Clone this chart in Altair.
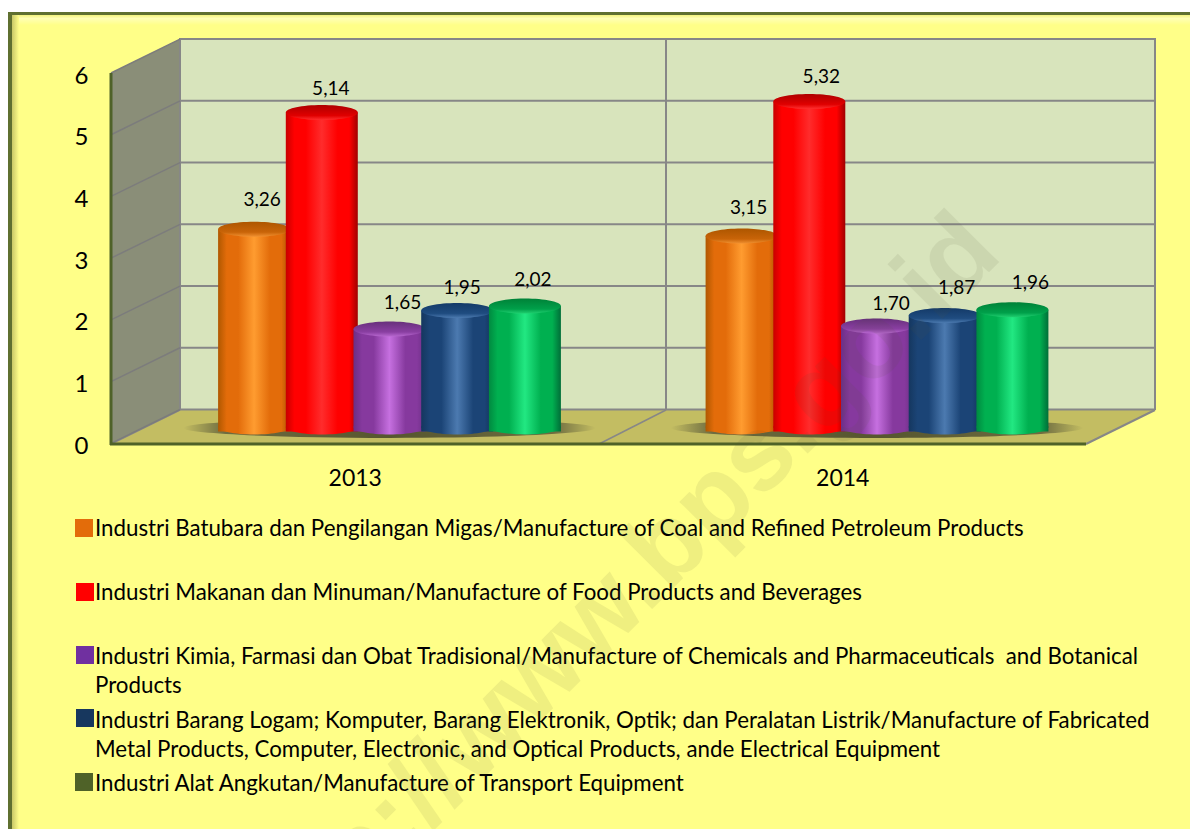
import altair as alt
import pandas as pd

years = ["2013", "2014"]
series = ["Batubara", "Makanan", "Kimia", "Logam", "Angkutan"]
values_2013 = [3.26, 5.14, 1.65, 1.95, 2.02]
values_2014 = [3.15, 5.32, 1.70, 1.87, 1.96]
labels_2013 = ["3,26", "5,14", "1,65", "1,95", "2,02"]
labels_2014 = ["3,15", "5,32", "1,70", "1,87", "1,96"]
ticks = [0, 1, 2, 3, 4, 5, 6]

legend_lines = [
    "Industri Batubara dan Pengilangan Migas/Manufacture of Coal and Refined Petroleum Products",
    "Industri Makanan dan Minuman/Manufacture of Food Products and Beverages",
    "Industri Kimia, Farmasi dan Obat Tradisional/Manufacture of Chemicals and Pharmaceuticals\u00a0 and Botanical",
    "Products",
    "Industri Barang Logam; Komputer, Barang Elektronik, Optik; dan Peralatan Listrik/Manufacture of Fabricated",
    "Metal Products, Computer, Electronic, and Optical Products, ande Electrical Equipment",
    "Industri Alat Angkutan/Manufacture of Transport Equipment",
]
legend_colors = ["#E36C0A", "#FF0000", "#7030A0", "#17375E", "#4F6228"]

W, H = 1182, 821
FONT = "Lato"
OX, OY = 8, 8  # page margin


def g_h(stops):
    return alt.Gradient(gradient="linear", x1=0, y1=0, x2=1, y2=0,
                        stops=[alt.GradientStop(offset=o, color=c) for o, c in stops])


def g_v(stops):
    return alt.Gradient(gradient="linear", x1=0, y1=0, x2=0, y2=1,
                        stops=[alt.GradientStop(offset=o, color=c) for o, c in stops])


def body(dark, base, hi, dark2):
    return g_h([(0, dark), (0.12, base), (0.28, base), (0.5, hi), (0.72, base), (0.88, base), (1, dark2)])


bodies = [
    body("#B05800", "#E36C0A", "#FF9C30", "#A85200"),
    body("#C80000", "#FF0000", "#FF2C2C", "#A00000"),
    body("#6C2F86", "#86399E", "#C670E0", "#6C2F86"),
    body("#15375F", "#1B4476", "#4C7AB0", "#13335A"),
    body("#008A40", "#00B050", "#22E882", "#006E38"),
]
caps = [
    g_v([(0, "#AD5600"), (0.7, "#C96408"), (1, "#F09030")]),
    g_v([(0, "#AE0000"), (0.7, "#E00000"), (1, "#FF3030")]),
    g_v([(0, "#68307C"), (0.7, "#8A3FA2"), (1, "#B868D0")]),
    g_v([(0, "#143A68"), (0.7, "#1F4C80"), (1, "#4C7AB0")]),
    g_v([(0, "#008238"), (0.7, "#00A04A"), (1, "#20D070")]),
]

ELLIPSE = "M-1,0C-1,-0.115,-0.55,-0.208,0,-0.208C0.55,-0.208,1,-0.115,1,0C1,0.115,0.55,0.208,0,0.208C-0.55,0.208,-1,0.115,-1,0Z"
one = pd.DataFrame({"a": [0]})


def rect(x, x2, y, y2, fill):
    return alt.Chart(one).mark_rect(color=fill).encode(
        x=alt.value(x - OX), x2=alt.value(x2 - OX), y=alt.value(y - OY), y2=alt.value(y2 - OY))


def seg(x, x2, y, y2, color, w):
    return alt.Chart(one).mark_rule(color=color, strokeWidth=w).encode(
        x=alt.value(x - OX), x2=alt.value(x2 - OX), y=alt.value(y - OY), y2=alt.value(y2 - OY))


layers = []
# frame
layers.append(rect(8, 1190, 12, 829, "#FFFF88"))
layers.append(rect(12, 1190, 15, 25, g_v([(0, "#F2F27C"), (0.35, "#FFFFB4"), (1, "#FFFF88")])))
layers.append(rect(12, 19, 15, 829, g_h([(0, "#C8C868"), (1, "#FFFF88")])))
layers.append(rect(8, 12, 12, 829, "#5F7030"))
layers.append(rect(8, 1190, 12, 15, "#5F7030"))

# walls
layers.append(rect(180, 1155, 39, 410, "#D8E4BC"))
wall = pd.DataFrame({"x": [111, 180], "top": [73, 39], "bot": [444, 410]})
pxx = alt.Scale(domain=[OX, OX + W], range=[0, W])
pxy = alt.Scale(domain=[OY, OY + H], range=[0, H])
layers.append(alt.Chart(wall).mark_area(color="#8A8E78").encode(
    x=alt.X("x:Q", scale=pxx, axis=None),
    y=alt.Y("top:Q", scale=pxy, axis=None), y2="bot:Q"))
floor = pd.DataFrame({"x": [111, 180, 1086, 1155], "top": [444, 410, 410, 410], "bot": [444, 444, 444, 410]})
layers.append(alt.Chart(floor).mark_area(color="#C3BD62").encode(
    x=alt.X("x:Q", scale=pxx, axis=None),
    y=alt.Y("top:Q", scale=pxy, axis=None), y2="bot:Q"))

# back-wall gridlines
grid_scale = alt.Scale(domain=[0, 6], range=[409.5 - OY, 39 - OY])
layers.append(alt.Chart(pd.DataFrame({"t": ticks})).mark_rule(color="#878787", strokeWidth=2).encode(
    x=alt.value(180 - OX), x2=alt.value(1155 - OX),
    y=alt.Y("t:Q", scale=grid_scale, axis=None)))
layers.append(seg(180, 180, 38, 410, "#878787", 2))
layers.append(seg(666, 666, 38, 410, "#878787", 2))
layers.append(seg(1155, 1155, 38, 410, "#878787", 2))
layers.append(seg(666, 599, 410, 444, "#878787", 1.5))
layers.append(seg(180, 111, 410, 444, "#878787", 1.5))
layers.append(seg(1155, 1086, 410, 444, "#878787", 2))

# side wall lines and value axis
front_scale = alt.Scale(domain=[0, 6], range=[443.3 - OY, 73 - OY])
side = pd.DataFrame({"t": ticks})
side["b"] = side["t"] + 33.8 / 61.7
layers.append(alt.Chart(side).mark_rule(color="#7C7C7C", strokeWidth=1.5).encode(
    x=alt.value(111 - OX), x2=alt.value(180 - OX),
    y=alt.Y("t:Q", scale=front_scale,
            axis=alt.Axis(values=ticks, domain=False, ticks=False, grid=False, title=None,
                          labelFont=FONT, labelFontSize=24, labelColor="#000000", labelPadding=0,
                          labelOffset=3, offset=-(88 - OX), zindex=1, format="d")),
    y2="b:Q"))
layers.append(seg(111, 111, 73, 445, "#4F6228", 3))
layers.append(seg(110, 1086, 444, 444, "#4F6228", 3))

# shadows
bar_x = alt.Scale(domain=years, range=[137.75, 1112.75], paddingInner=0.3056, paddingOuter=0.1528)
off_x = alt.Scale(domain=series, paddingInner=0, paddingOuter=0)
bar_y = alt.Scale(domain=[0, 6], range=[431.4 - OY, 59.2 - OY])
shadow_grad = alt.Gradient(gradient="radial", x1=0.5, y1=0.5, x2=0.5, y2=0.5, r1=0, r2=0.5,
                           stops=[alt.GradientStop(offset=0, color="#55552E"),
                                  alt.GradientStop(offset=0.8, color="#6E6C40"),
                                  alt.GradientStop(offset=1, color="#C3BD62")])
layers.append(alt.Chart(pd.DataFrame({"year": years})).mark_point(
    shape="M-1,0C-1,-0.026,-0.55,-0.048,0,-0.048C0.55,-0.048,1,-0.026,1,0C1,0.026,0.55,0.048,0,0.048C-0.55,0.048,-1,0.026,-1,0Z",
    filled=True, size=(2 * 206) ** 2, fill=shadow_grad, opacity=1, stroke=None).encode(
    x=alt.X("year:N", scale=bar_x, axis=None),
    y=alt.value(428 - OY)))

# cylinders
rows = []
for yr, vals in zip(years, [values_2013, values_2014]):
    for s, v in zip(series, vals):
        rows.append({"year": yr, "series": s, "value": v})
df = pd.DataFrame(rows)

for i, s in enumerate(series):
    d = df[df["series"] == s]
    xe = alt.X("year:N", scale=bar_x, axis=None)
    xo = alt.XOffset("series:N", scale=off_x)
    ye = alt.Y("value:Q", scale=bar_y, axis=None)
    layers.append(alt.Chart(d).mark_point(shape=ELLIPSE, filled=True, size=72 ** 2, fill=bodies[i],
                                          opacity=1, stroke=None).encode(
        x=xe, xOffset=xo, y=alt.value(427 - OY)))
    layers.append(alt.Chart(d).mark_bar(size=72, fill=bodies[i]).encode(
        x=xe, xOffset=xo, y=ye, y2=alt.value(427 - OY)))
    layers.append(alt.Chart(d).mark_point(shape=ELLIPSE, filled=True, size=72 ** 2, fill=caps[i],
                                          opacity=1, stroke=None).encode(
        x=xe, xOffset=xo, y=ye))

# value labels, each nudged clear of its cylinder
nudges = {
    ("2013", 0): (8, -29), ("2013", 1): (9, -24), ("2013", 2): (13, -26), ("2013", 3): (5, -22), ("2013", 4): (8, -26),
    ("2014", 0): (7, -28), ("2014", 1): (12, -24), ("2014", 2): (14, -22), ("2014", 3): (12, -27), ("2014", 4): (18, -27),
}
for yr, vals, labs in zip(years, [values_2013, values_2014], [labels_2013, labels_2014]):
    for i, (s, v, lab) in enumerate(zip(series, vals, labs)):
        dx, dy = nudges[(yr, i)]
        d = pd.DataFrame({"year": [yr], "series": [s], "value": [v], "label": [lab]})
        layers.append(alt.Chart(d).mark_text(font=FONT, fontSize=19, color="#000000", dx=dx, dy=dy,
                                             align="center", baseline="middle").encode(
            x=alt.X("year:N", scale=bar_x, axis=None),
            xOffset=alt.XOffset("series:N", scale=off_x),
            y=alt.Y("value:Q", scale=bar_y, axis=None),
            text="label:N"))

# category axis
cat_x = alt.Scale(domain=years, range=[111 - OX, 1086 - OX], paddingInner=0, paddingOuter=0)
layers.append(alt.Chart(pd.DataFrame({"year": years})).mark_point(opacity=0).encode(
    x=alt.X("year:N", scale=cat_x,
            axis=alt.Axis(domain=False, ticks=False, grid=False, title=None, labelAngle=0,
                          labelFont=FONT, labelFontSize=23, labelColor="#000000", labelPadding=0,
                          offset=-(H + OY - 467), zindex=1)),
    y=alt.value(470)))

# legend
swatches = [(75, 519, 0), (76, 583, 1), (76, 646, 2), (76, 709, 3), (75, 773, 4)]
for x, y, i in swatches:
    layers.append(rect(x, x + 18, y, y + 18, legend_colors[i]))
line_y = [529, 593, 657, 686, 721, 750, 784]
ld = pd.DataFrame({"line": legend_lines, "py": line_y})
layers.append(alt.Chart(ld).mark_text(font=FONT, fontSize=22.3, color="#000000", align="left",
                                      baseline="middle").encode(
    x=alt.value(95 - OX),
    y=alt.Y("py:Q", scale=pxy, axis=None),
    text="line:N"))

# watermark
layers.append(alt.Chart(one).mark_text(text="http://www.bps.go.id", font="Liberation Sans", fontWeight="bold",
                                       fontSize=107, angle=315, color="#55553A", opacity=0.09,
                                       align="center", baseline="middle").encode(
    x=alt.value(603), y=alt.value(597)))

chart = alt.layer(*layers).resolve_scale(x="independent", y="independent").properties(
    width=W, height=H, padding=0,
    autosize=alt.AutoSizeParams(type="none"),
).configure_view(stroke=None)

chart.save("out.html", embed_options={"renderer": "svg", "actions": False})
